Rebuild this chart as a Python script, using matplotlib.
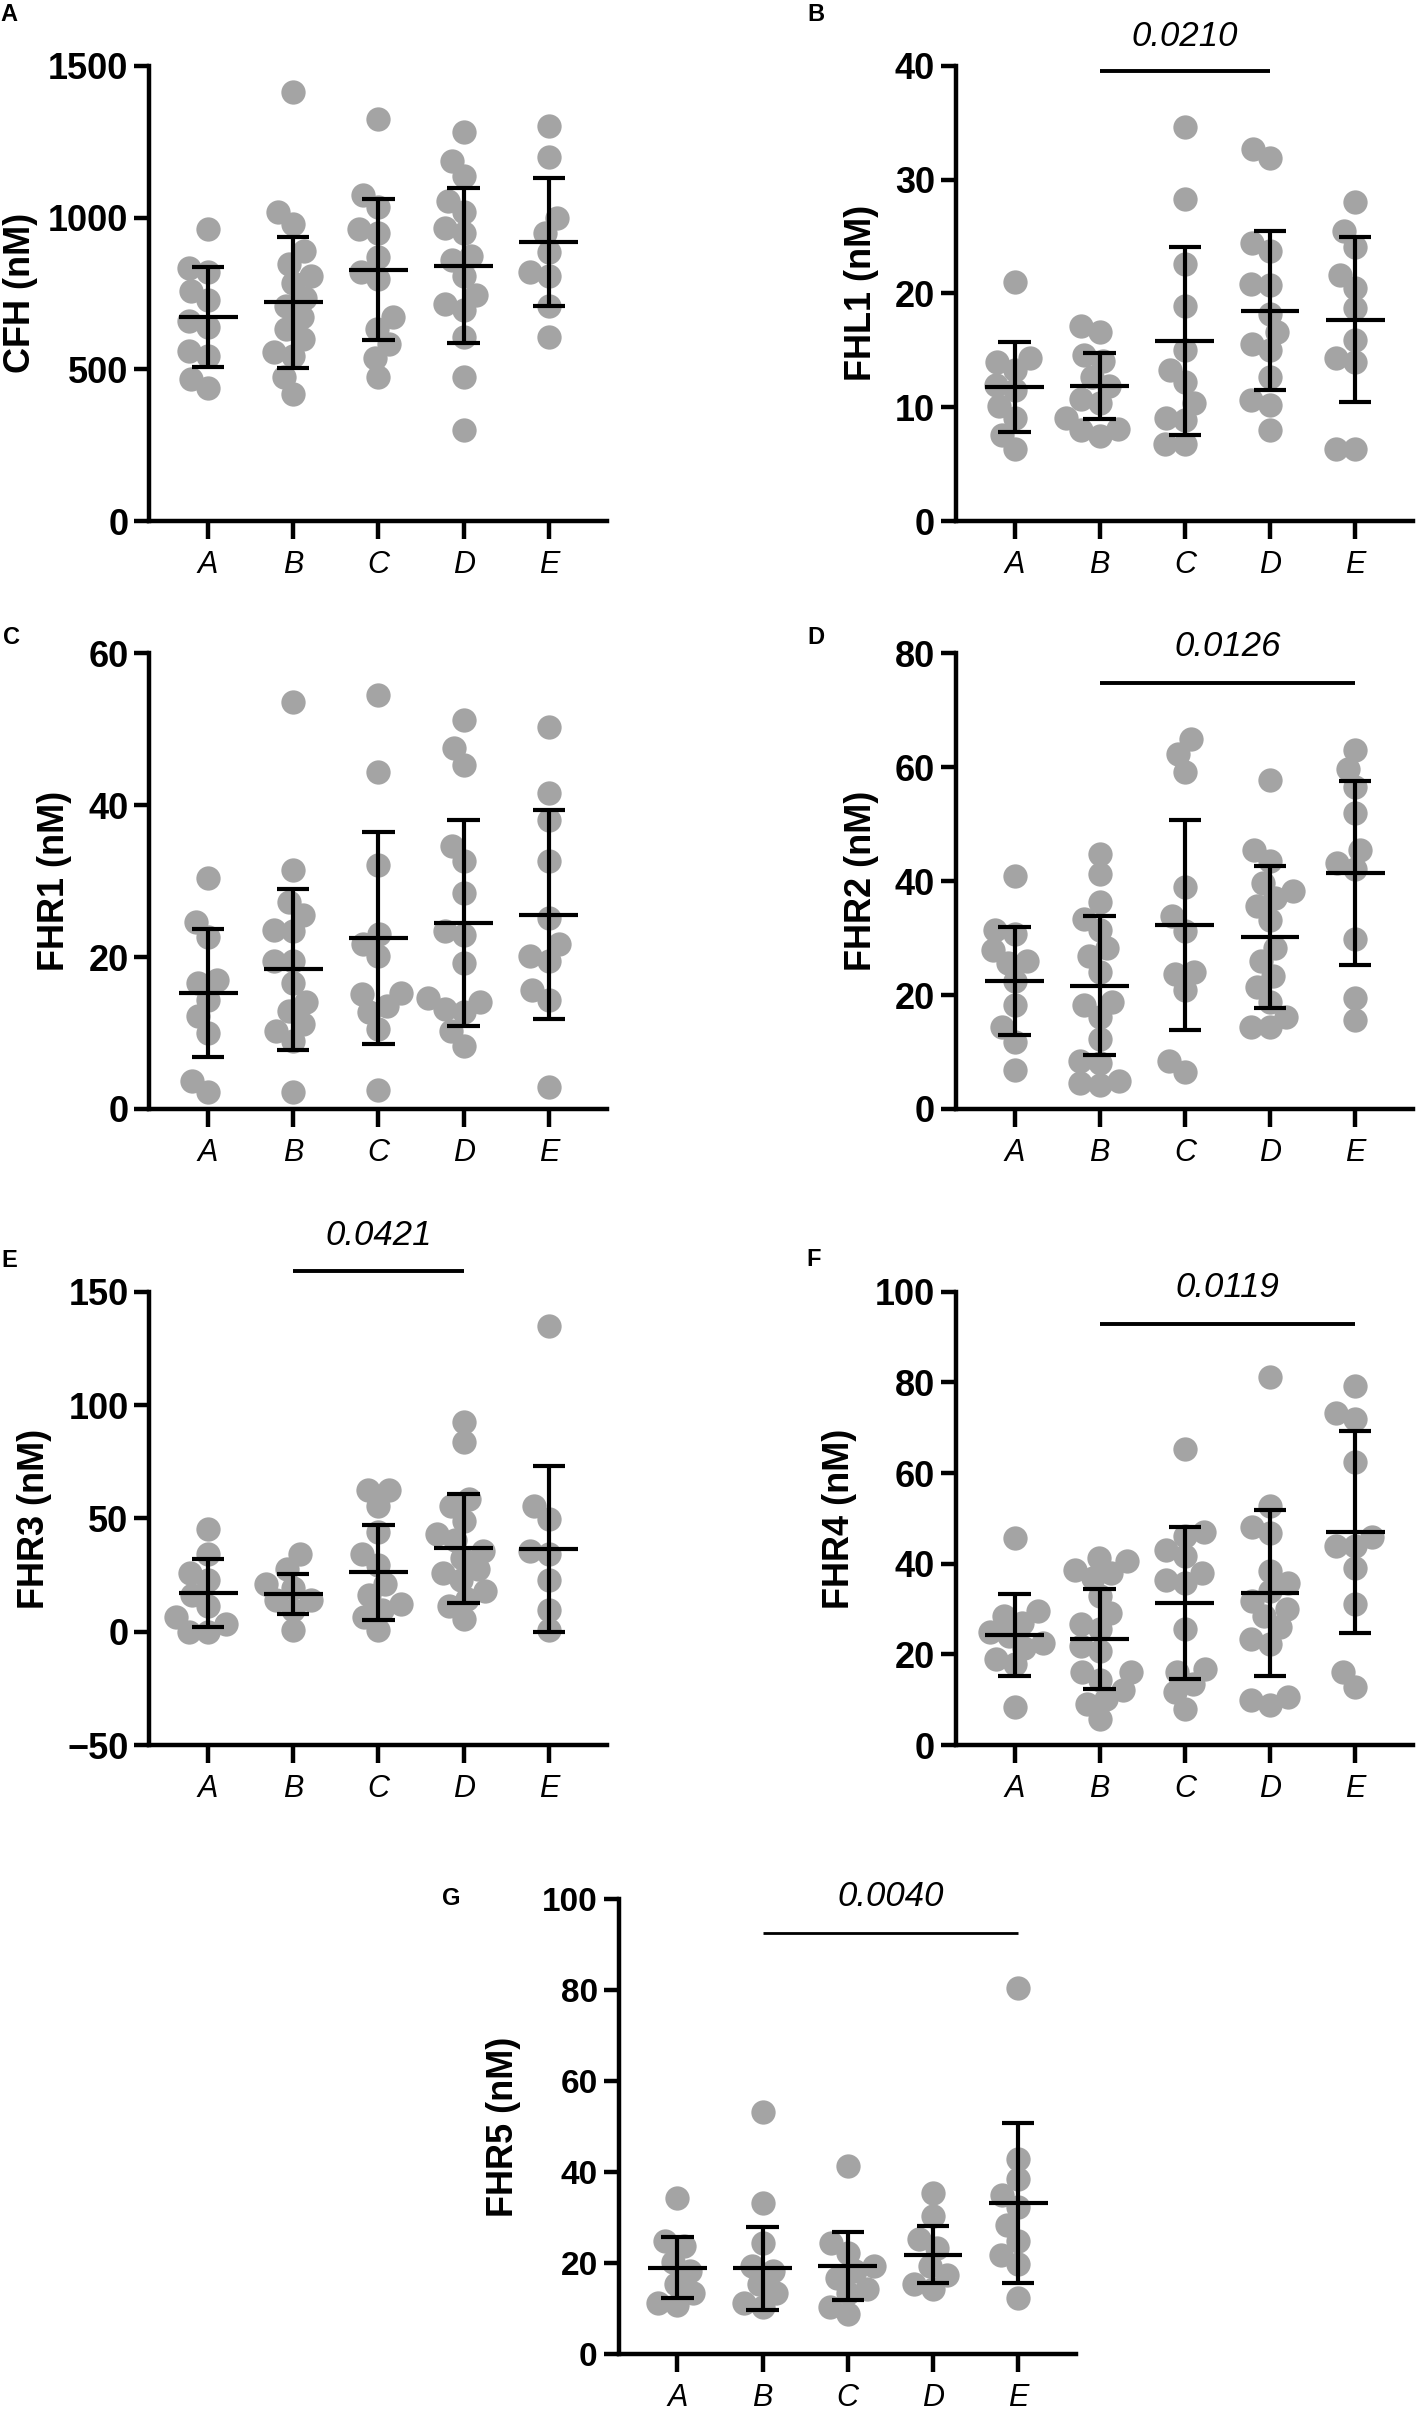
import numpy as np
import matplotlib.pyplot as plt

groups = ['A', 'B', 'C', 'D', 'E']

# values (nM), one list per group
cfh = [[961, 835, 820, 759, 727, 658, 640, 560, 545, 469, 437],
       [1414, 1017, 979, 891, 847, 809, 784, 734, 708, 671, 633, 601, 557, 545, 475, 418],
       [1324, 1074, 1036, 961, 948, 870, 822, 797, 671, 633, 582, 538, 475],
       [1282, 1187, 1137, 1055, 1017, 967, 948, 872, 860, 809, 746, 715, 696, 608, 475, 299],
       [1301, 1200, 998, 948, 885, 822, 809, 708, 608]]
cfh_mean = [673, 721, 828, 841, 920]
cfh_sd = [164, 216, 232, 255, 211]

fhl1 = [[21.0, 14.3, 14.0, 13.3, 12.0, 11.5, 10.1, 9.1, 7.6, 6.3],
        [17.1, 16.6, 14.6, 14.1, 12.7, 11.9, 10.7, 10.4, 9.1, 8.1, 8.0, 7.5],
        [34.6, 28.3, 22.6, 18.9, 15.0, 13.3, 12.2, 10.4, 9.1, 8.9, 6.8, 6.8],
        [32.7, 31.9, 24.4, 23.7, 20.8, 20.7, 18.2, 16.6, 15.6, 15.0, 12.7, 10.6, 10.2, 8.0],
        [28.0, 25.5, 24.1, 21.6, 20.5, 18.7, 15.9, 14.3, 14.0, 6.3, 6.3]]
fhl1_mean = [11.8, 11.9, 15.8, 18.5, 17.7]
fhl1_sd = [3.95, 2.9, 8.25, 7.0, 7.25]

fhr1 = [[30.4, 24.6, 22.6, 17.0, 16.6, 14.4, 12.2, 10.0, 3.7, 2.2],
        [53.6, 31.4, 27.3, 25.6, 23.6, 23.4, 19.5, 19.5, 16.6, 14.1, 12.9, 11.2, 10.2, 9.0, 2.2],
        [54.5, 44.4, 32.1, 23.1, 21.7, 20.2, 15.3, 15.1, 13.6, 12.7, 10.5, 2.5],
        [51.2, 47.5, 45.3, 34.6, 32.6, 28.5, 23.4, 22.9, 19.2, 14.6, 14.1, 13.2, 12.7, 10.2, 8.3],
        [50.3, 41.6, 38.0, 32.6, 25.1, 21.7, 20.2, 19.5, 15.6, 14.4, 2.9]]
fhr1_mean = [15.3, 18.4, 22.5, 24.5, 25.6]
fhr1_sd = [8.45, 10.6, 14.0, 13.6, 13.8]

fhr2 = [[40.9, 31.5, 30.8, 27.9, 26.0, 25.6, 22.4, 18.2, 14.3, 11.7, 6.8],
        [44.8, 41.2, 36.4, 33.4, 31.5, 28.2, 26.9, 24.0, 18.8, 18.2, 16.2, 12.3, 8.4, 8.1, 4.9, 4.5, 4.2],
        [64.9, 62.3, 59.1, 39.0, 33.8, 31.2, 24.0, 23.7, 20.8, 8.4, 6.5],
        [57.8, 45.5, 43.5, 39.6, 38.3, 37.0, 35.7, 33.1, 28.2, 26.0, 23.4, 21.4, 18.8, 16.2, 14.3, 14.3],
        [63.0, 59.7, 56.5, 51.9, 45.5, 43.2, 42.2, 29.9, 19.5, 15.6]]
fhr2_mean = [22.4, 21.6, 32.3, 30.2, 41.4]
fhr2_sd = [9.5, 12.2, 18.4, 12.5, 16.2]

fhr3 = [[45.5, 34.1, 26.0, 22.8, 16.3, 11.4, 6.5, 3.3, 0.0, 0.0],
        [34.1, 27.6, 21.1, 19.5, 13.8, 13.8, 9.8, 0.8],
        [62.6, 62.6, 55.3, 43.9, 34.1, 29.3, 21.1, 16.3, 12.2, 9.8, 6.5, 0.8],
        [92.6, 83.7, 58.5, 55.3, 48.8, 43.1, 40.6, 35.8, 32.5, 27.6, 26.0, 22.8, 17.9, 14.6, 11.4, 5.7],
        [134.9, 55.3, 49.6, 35.8, 34.1, 22.8, 9.8, 0.8]]
fhr3_mean = [17.1, 16.6, 26.3, 36.9, 36.4]
fhr3_sd = [15.0, 8.7, 21.0, 24.0, 36.7]

fhr4 = [[45.7, 29.5, 28.5, 27.0, 25.0, 24.0, 22.5, 21.5, 19.0, 17.8, 8.4],
        [41.3, 40.6, 38.7, 38.0, 36.9, 32.9, 29.2, 26.7, 25.6, 21.9, 20.8, 16.1, 16.1, 14.3, 12.1, 10.2, 9.1, 5.8],
        [65.4, 47.1, 46.1, 43.1, 41.7, 38.0, 36.5, 35.8, 25.6, 16.8, 16.1, 13.5, 11.7, 8.0],
        [81.3, 52.8, 48.2, 46.8, 38.4, 35.8, 34.0, 31.8, 30.0, 28.5, 26.0, 23.4, 22.3, 10.6, 9.9, 8.8],
        [79.3, 73.2, 72.0, 62.5, 46.0, 43.9, 43.9, 39.1, 31.1, 16.1, 12.8]]
fhr4_mean = [24.3, 23.4, 31.4, 33.6, 47.1]
fhr4_sd = [9.1, 11.0, 16.8, 18.3, 22.3]

fhr5 = [[34.4, 24.8, 23.8, 20.3, 18.3, 15.3, 13.3, 11.3, 10.8],
        [53.3, 33.2, 24.3, 19.3, 18.3, 15.3, 13.3, 11.3, 10.3],
        [41.4, 24.3, 22.3, 19.3, 18.3, 16.8, 14.3, 13.3, 10.3, 8.7],
        [35.4, 30.4, 25.3, 23.3, 19.3, 17.3, 15.3, 14.3],
        [80.6, 42.9, 38.4, 34.9, 32.4, 28.3, 24.8, 21.8, 19.8, 12.3]]
fhr5_mean = [19.0, 18.8, 19.3, 21.8, 33.2]
fhr5_sd = [6.8, 9.05, 7.5, 6.3, 17.7]

# p values: (first group, last group, text)
p_fhl1 = ('B', 'D', '0.0210')
p_fhr2 = ('B', 'E', '0.0126')
p_fhr3 = ('B', 'D', '0.0421')
p_fhr4 = ('B', 'E', '0.0119')
p_fhr5 = ('B', 'E', '0.0040')

GREY = '#a4a4a4'
NARROW = ['Liberation Sans Narrow', 'Liberation Sans', 'DejaVu Sans']
ARIAL = ['Liberation Sans', 'DejaVu Sans']
DOT = 17.5  # marker size, pt

fig = plt.figure(figsize=(14.17, 24.16), dpi=100)


def swarm(ax, x0, vals, diam_px):
    # simple beeswarm: each point takes the closest free spot to the centre
    pts = ax.transData.transform(np.column_stack([np.full(len(vals), x0), vals]))
    ppu = ax.transData.transform([(1, 0)])[0][0] - ax.transData.transform([(0, 0)])[0][0]
    ys = pts[:, 1]
    order = np.argsort(ys)
    placed = []
    offs = np.zeros(len(vals))
    for i in order:
        y = ys[i]
        cands = [0.0]
        for (px, py) in placed:
            dy = abs(py - y)
            if dy < diam_px:
                dx = np.sqrt(diam_px ** 2 - dy ** 2)
                cands += [px + dx, px - dx]
        cands.sort(key=lambda c: (abs(c), c))
        for c in cands:
            ok = all((c - px) ** 2 + (y - py) ** 2 >= diam_px ** 2 - 1e-6 for (px, py) in placed)
            if ok:
                break
        placed.append((c, y))
        offs[i] = c / ppu
    return offs


def panel(rect, letter, letter_xy, ylabel, ylab_x, data, means, sds, ylim, yticks,
          sig=None, sig_y=None, txt_y=None, sig_lw=2.8, tick_fam=NARROW, tick_size=26):
    ax = fig.add_axes(rect)
    ax.set_xlim(-0.69, 4.68)
    ax.set_ylim(*ylim)
    ax.set_yticks(yticks)
    ax.set_xticks(range(len(groups)))
    ax.set_xticklabels(groups)
    for s in ['top', 'right']:
        ax.spines[s].set_visible(False)
    for s in ['left', 'bottom']:
        ax.spines[s].set_linewidth(3.2)
    ax.tick_params(axis='y', direction='out', length=11, width=3.2, pad=4)
    ax.tick_params(axis='x', direction='out', length=13, width=3.2, pad=8)
    for t in ax.get_yticklabels():
        t.set_family(tick_fam)
        t.set_weight('bold')
        t.set_size(tick_size)
    for t in ax.get_xticklabels():
        t.set_family(NARROW)
        t.set_style('italic')
        t.set_size(22)

    diam = DOT * fig.dpi / 72.0 * 0.8
    for i, vals in enumerate(data):
        offs = swarm(ax, i, vals, diam)
        ax.plot(i + offs, vals, 'o', ms=DOT, color=GREY, mec='none', zorder=2,
                clip_on=False)
        m, s = means[i], sds[i]
        ax.vlines(i, m - s, m + s, color='black', lw=3, zorder=3)
        ax.hlines([m - s, m + s], i - 0.19, i + 0.19, color='black', lw=3, zorder=3)
        ax.hlines(m, i - 0.345, i + 0.345, color='black', lw=3, zorder=3)

    ax.text(ylab_x, 0.5, ylabel, transform=ax.transAxes, rotation=90,
            ha='center', va='center', family=ARIAL, weight='bold', size=26)
    fig.text(letter_xy[0], letter_xy[1], letter, ha='center', va='center',
             family=ARIAL, weight='bold', size=17)

    if sig is not None:
        a, b, txt = sig
        xa, xb = groups.index(a), groups.index(b)
        ax.plot([xa, xb], [sig_y, sig_y], color='black', lw=sig_lw,
                solid_capstyle='butt', clip_on=False)
        ax.text((xa + xb) / 2, txt_y, txt, ha='center', va='center',
                family=ARIAL, style='italic', size=25, clip_on=False)
    return ax


panel((0.1054, 0.7843, 0.3228, 0.1885), 'A', (0.0064, 0.9938), 'CFH (nM)', -0.281,
      cfh, cfh_mean, cfh_sd, (0, 1500), [0, 500, 1000, 1500])
panel((0.6745, 0.7843, 0.3227, 0.1885), 'B', (0.5756, 0.9939), 'FHL1 (nM)', -0.206,
      fhl1, fhl1_mean, fhl1_sd, (0, 40), [0, 10, 20, 30, 40],
      sig=p_fhl1, sig_y=39.5, txt_y=42.6)
panel((0.1054, 0.5410, 0.3228, 0.1886), 'C', (0.0078, 0.7363), 'FHR1 (nM)', -0.208,
      fhr1, fhr1_mean, fhr1_sd, (0, 60), [0, 20, 40, 60])
panel((0.6745, 0.5410, 0.3227, 0.1886), 'D', (0.5756, 0.7363), 'FHR2 (nM)', -0.206,
      fhr2, fhr2_mean, fhr2_sd, (0, 80), [0, 20, 40, 60, 80],
      sig=p_fhr2, sig_y=74.8, txt_y=81.2)
panel((0.1054, 0.2777, 0.3228, 0.1876), 'E', (0.0064, 0.4781), 'FHR3 (nM)', -0.252,
      fhr3, fhr3_mean, fhr3_sd, (-50, 150), [-50, 0, 50, 100, 150],
      sig=p_fhr3, sig_y=159.3, txt_y=174.7)
panel((0.6745, 0.2777, 0.3227, 0.1876), 'F', (0.5744, 0.4787), 'FHR4 (nM)', -0.255,
      fhr4, fhr4_mean, fhr4_sd, (0, 100), [0, 20, 40, 60, 80, 100],
      sig=p_fhr4, sig_y=93.0, txt_y=101.0)
panel((0.4365, 0.0257, 0.3229, 0.1881), 'G', (0.3183, 0.2142), 'FHR5 (nM)', -0.252,
      fhr5, fhr5_mean, fhr5_sd, (0, 100), [0, 20, 40, 60, 80, 100],
      sig=p_fhr5, sig_y=92.7, txt_y=100.7, sig_lw=2.0, tick_fam=ARIAL, tick_size=24)

fig.savefig('out.png', dpi=100)
